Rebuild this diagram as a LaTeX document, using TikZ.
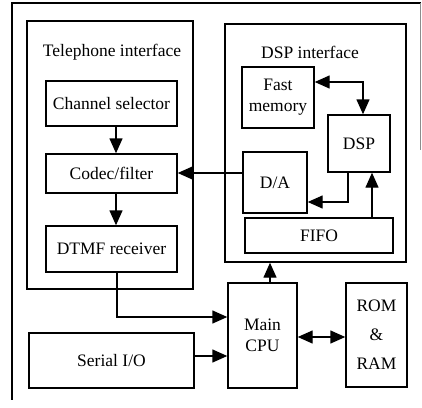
\documentclass[tikz,border=0pt]{standalone}
\usepackage{fontspec}
\setmainfont{Liberation Serif}
\usetikzlibrary{arrows.meta}
\tikzset{
  blk/.style={draw, line width=1.4pt, inner sep=0pt, align=center,
    font=\fontsize{17.5}{21}\selectfont},
  lbl/.style={inner sep=0pt, font=\fontsize{17.5}{21}\selectfont},
  link/.style={line width=1.4pt},
  tip/.tip={Triangle[length=15pt,width=13pt]},
  arr/.style={link, -tip},
  dblarr/.style={link, tip-tip},
}
\begin{document}
\begin{tikzpicture}[x=1pt,y=-1pt]
\useasboundingbox (0,0) rectangle (422,407);

% outer frame
\draw[line width=1.4pt] (421,3) -- (12,3) -- (12,400);
\draw[line width=0.8pt, black!45] (420,3) -- (420,150);

% telephone interface group
\node[blk, minimum width=166pt, minimum height=268pt] (tel) at (110,155) {};
\node[lbl] (telT) at (112,52) {Telephone interface};
\node[blk, minimum width=131pt, minimum height=45pt] (chan) at (111.5,103.5) {Channel selector};
\node[blk, minimum width=131pt, minimum height=39pt] (codec) at (111.5,173.5) {Codec/filter};
\node[blk, minimum width=131pt, minimum height=46pt] (dtmf) at (111.5,249) {DTMF receiver};

% DSP interface group
\node[blk, minimum width=181pt, minimum height=238pt] (dspif) at (315.5,143) {};
\node[lbl] (dspT) at (310,52) {DSP interface};
\node[blk, minimum width=72pt, minimum height=61pt] (fast) at (278,97.5) {Fast\\memory};
\node[blk, minimum width=62pt, minimum height=57pt] (dsp) at (359,143.5) {DSP};
\node[blk, minimum width=64pt, minimum height=61pt] (da) at (275,182.5) {D/A};
\node[blk, minimum width=148pt, minimum height=35pt] (fifo) at (319,235.5) {FIFO};

% host side
\node[blk, minimum width=165pt, minimum height=55pt] (serial) at (111.5,360.5) {Serial I/O};
\node[blk, minimum width=69pt, minimum height=105pt] (cpu) at (262.5,335.5) {Main\\CPU};
\node[blk, minimum width=61pt, minimum height=104pt] (rom) at (376.5,335) {ROM\\[8pt]\&\\[8pt]RAM};

% telephone side connections
\draw[arr] ([xshift=4.5pt]chan.south) -- ([xshift=4.5pt]codec.north);
\draw[arr] ([xshift=4.5pt]codec.south) -- ([xshift=4.5pt]dtmf.north);
\draw[arr] ([xshift=5.5pt]dtmf.south) |- ([yshift=18.5pt]cpu.west);
\draw[arr] ([yshift=4.5pt]serial.east) -- ([yshift=4.5pt]serial.east -| cpu.west);
\draw[dblarr] ([yshift=-1.5pt]cpu.east) -- ([yshift=-1.5pt]cpu.east -| rom.west);
\draw[arr] ([xshift=7.5pt]cpu.north) -- ([xshift=7.5pt]cpu.north |- dspif.south);

% DSP side connections
\draw[arr] ([yshift=0.5pt]da.west |- codec.east) -- ([yshift=0.5pt]codec.east);
\draw[dblarr] ([yshift=15.5pt]fast.east) -| ([xshift=4pt]dsp.north);
\draw[arr] ([xshift=-11pt]dsp.south) |- ([yshift=-19.5pt]da.east);
\draw[arr] ([xshift=13pt]dsp.south |- fifo.north) -- ([xshift=13pt]dsp.south);
\end{tikzpicture}
\end{document}
